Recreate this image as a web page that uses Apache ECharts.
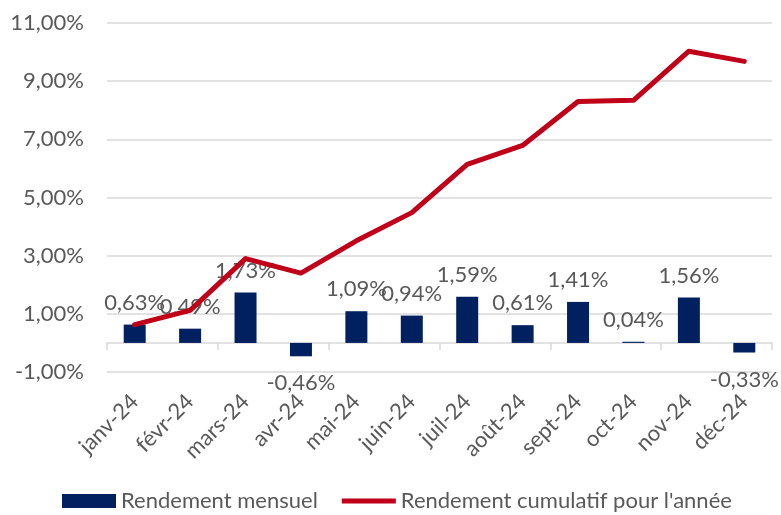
<!DOCTYPE html>
<html><head><meta charset="utf-8">
<script src="https://cdn.jsdelivr.net/npm/echarts@6/dist/echarts.min.js"></script>
<style>html,body{margin:0;padding:0;background:#fff}#c{width:781px;height:515px}</style>
</head><body><div id="c"></div>
<script>
const categories = ['janv-24','févr-24','mars-24','avr-24','mai-24','juin-24','juil-24','août-24','sept-24','oct-24','nov-24','déc-24'];
const monthly = [0.63, 0.49, 1.73, -0.46, 1.09, 0.94, 1.59, 0.61, 1.41, 0.04, 1.56, -0.33];
const cumulative = [0.63, 1.12, 2.90, 2.40, 3.51, 4.48, 6.14, 6.79, 8.30, 8.34, 10.03, 9.68];
const yTicks = [-1, 1, 3, 5, 7, 9, 11];
const seriesNames = ['Rendement mensuel', "Rendement cumulatif pour l'année"];

const FONT = 'Lato';
const GRAY = '#595959';
const FS = 22;
const fmt = v => v.toFixed(2).replace('.', ',') + '%';

const chart = echarts.init(document.getElementById('c'));
chart.setOption({
  animation: false,
  textStyle: { fontFamily: FONT },
  grid: { left: 107, right: 9, top: 23, bottom: 143, containLabel: false },
  legend: {
    left: 62, top: 490, padding: 0,
    itemWidth: 54, itemHeight: 14, itemGap: 24,
    textStyle: { color: GRAY, fontSize: FS, fontFamily: FONT },
    data: [
      { name: seriesNames[0], icon: 'rect' },
      { name: seriesNames[1], icon: 'path://M0,0 L54,0 L54,5 L0,5 Z', itemStyle: { color: '#c00018' } }
    ]
  },
  xAxis: [
    {
      type: 'category', data: categories,
      axisLine: { show: false, onZero: false }, axisTick: { show: false },
      axisLabel: { rotate: 45, margin: 26, color: GRAY, fontSize: FS, fontFamily: FONT, interval: 0 }
    },
    {
      type: 'category', data: categories, position: 'bottom',
      axisLine: { show: true, onZero: true, lineStyle: { color: '#d9d9d9', width: 1.5 } },
      axisTick: { show: true, length: 7, lineStyle: { color: '#d9d9d9', width: 1.5 } },
      axisLabel: { show: false }
    }
  ],
  yAxis: {
    type: 'value', min: -1, max: 11, interval: 1,
    axisLine: { show: false }, axisTick: { show: false },
    splitLine: { show: true, lineStyle: { color: ['#d9d9d9', 'rgba(0,0,0,0)'], width: 1.5 } },
    axisLabel: {
      margin: 23, color: GRAY, fontSize: FS, fontFamily: FONT,
      formatter: v => yTicks.includes(v) ? fmt(v) : ''
    }
  },
  series: [
    {
      name: seriesNames[0], type: 'bar', barWidth: 22,
      data: monthly.map(v => ({ value: v, label: v < 0 ? { position: 'bottom', distance: 16 } : { position: 'top', distance: 11 } })),
      itemStyle: { color: '#002060' },
      label: { show: true, color: GRAY, fontSize: FS, fontFamily: FONT,
        formatter: p => fmt(p.value) }
    },
    {
      name: seriesNames[1], type: 'line', data: cumulative, symbol: 'none',
      lineStyle: { color: '#c00018', width: 5, cap: 'round', join: 'round' },
      itemStyle: { color: '#c00018' }, z: 3
    }
  ]
});
</script></body></html>
